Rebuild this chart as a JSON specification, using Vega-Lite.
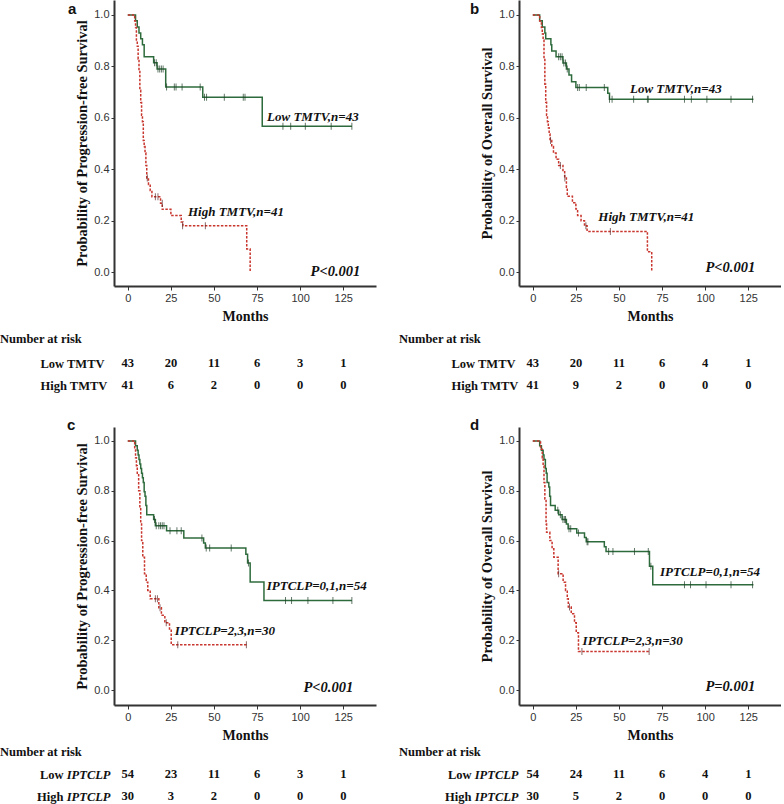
{
"$schema":"https://vega.github.io/schema/vega-lite/v6.json",
"background":"white",
"padding":{"left":0,"top":0,"right":0,"bottom":0},
"config":{"view":{"stroke":null},
"axis":{"grid":false,"domainColor":"#333","domainWidth":2,"tickColor":"#333","tickWidth":1,"labelFont":"Liberation Sans","labelFontSize":11,"labelColor":"#333","titleFont":"Liberation Serif","titleFontWeight":"bold","titleColor":"#111"},
"title":{"font":"Liberation Sans","fontWeight":"bold","fontSize":15,"color":"#111"},
"text":{"font":"Liberation Serif","fontWeight":"bold","color":"#111"}},
"datasets":{
"km":[
{"p":"a","g":"low","m":0,"s":1},{"p":"a","g":"low","m":4.5,"s":0.977},{"p":"a","g":"low","m":5.5,"s":0.953},{"p":"a","g":"low","m":6.5,"s":0.93},{"p":"a","g":"low","m":7.5,"s":0.907},{"p":"a","g":"low","m":8.5,"s":0.884},{"p":"a","g":"low","m":9.5,"s":0.837},{"p":"a","g":"low","m":15,"s":0.814},{"p":"a","g":"low","m":17,"s":0.79},{"p":"a","g":"low","m":22,"s":0.72},{"p":"a","g":"low","m":43.5,"s":0.68},{"p":"a","g":"low","m":78,"s":0.567},{"p":"a","g":"low","m":130,"s":0.567},
{"p":"a","g":"high","m":0,"s":1},{"p":"a","g":"high","m":4,"s":0.976},{"p":"a","g":"high","m":4.5,"s":0.951},{"p":"a","g":"high","m":5,"s":0.902},{"p":"a","g":"high","m":5.5,"s":0.878},{"p":"a","g":"high","m":6,"s":0.829},{"p":"a","g":"high","m":6.5,"s":0.78},{"p":"a","g":"high","m":7,"s":0.707},{"p":"a","g":"high","m":7.5,"s":0.659},{"p":"a","g":"high","m":8,"s":0.61},{"p":"a","g":"high","m":8.5,"s":0.585},{"p":"a","g":"high","m":9,"s":0.512},{"p":"a","g":"high","m":9.5,"s":0.488},{"p":"a","g":"high","m":10,"s":0.463},{"p":"a","g":"high","m":10.5,"s":0.415},{"p":"a","g":"high","m":11,"s":0.366},{"p":"a","g":"high","m":12,"s":0.341},{"p":"a","g":"high","m":13,"s":0.317},{"p":"a","g":"high","m":14,"s":0.293},{"p":"a","g":"high","m":19,"s":0.268},{"p":"a","g":"high","m":20,"s":0.244},{"p":"a","g":"high","m":25,"s":0.22},{"p":"a","g":"high","m":31,"s":0.195},{"p":"a","g":"high","m":32,"s":0.18},{"p":"a","g":"high","m":69,"s":0.09},{"p":"a","g":"high","m":71,"s":0},
{"p":"b","g":"low","m":0,"s":1},{"p":"b","g":"low","m":4,"s":0.977},{"p":"b","g":"low","m":5.5,"s":0.953},{"p":"b","g":"low","m":7,"s":0.93},{"p":"b","g":"low","m":7.5,"s":0.907},{"p":"b","g":"low","m":10.5,"s":0.884},{"p":"b","g":"low","m":11,"s":0.86},{"p":"b","g":"low","m":13.5,"s":0.837},{"p":"b","g":"low","m":17.5,"s":0.813},{"p":"b","g":"low","m":19.5,"s":0.79},{"p":"b","g":"low","m":21,"s":0.766},{"p":"b","g":"low","m":22.5,"s":0.74},{"p":"b","g":"low","m":25,"s":0.718},{"p":"b","g":"low","m":43.5,"s":0.695},{"p":"b","g":"low","m":44.5,"s":0.672},{"p":"b","g":"low","m":128,"s":0.672},
{"p":"b","g":"high","m":0,"s":1},{"p":"b","g":"high","m":4,"s":0.976},{"p":"b","g":"high","m":5,"s":0.951},{"p":"b","g":"high","m":5.5,"s":0.927},{"p":"b","g":"high","m":6,"s":0.902},{"p":"b","g":"high","m":6.5,"s":0.83},{"p":"b","g":"high","m":7,"s":0.73},{"p":"b","g":"high","m":7.5,"s":0.66},{"p":"b","g":"high","m":8,"s":0.61},{"p":"b","g":"high","m":8.5,"s":0.585},{"p":"b","g":"high","m":9,"s":0.561},{"p":"b","g":"high","m":9.5,"s":0.537},{"p":"b","g":"high","m":10,"s":0.512},{"p":"b","g":"high","m":11,"s":0.488},{"p":"b","g":"high","m":12,"s":0.463},{"p":"b","g":"high","m":13.5,"s":0.439},{"p":"b","g":"high","m":15,"s":0.415},{"p":"b","g":"high","m":17.5,"s":0.39},{"p":"b","g":"high","m":18.5,"s":0.366},{"p":"b","g":"high","m":19.5,"s":0.33},{"p":"b","g":"high","m":20,"s":0.295},{"p":"b","g":"high","m":23,"s":0.27},{"p":"b","g":"high","m":25,"s":0.245},{"p":"b","g":"high","m":26,"s":0.22},{"p":"b","g":"high","m":28,"s":0.2},{"p":"b","g":"high","m":30,"s":0.18},{"p":"b","g":"high","m":31.5,"s":0.158},{"p":"b","g":"high","m":66.5,"s":0.079},{"p":"b","g":"high","m":69,"s":0},
{"p":"c","g":"low","m":0,"s":1},{"p":"c","g":"low","m":4.5,"s":0.981},{"p":"c","g":"low","m":5.5,"s":0.963},{"p":"c","g":"low","m":6,"s":0.944},{"p":"c","g":"low","m":6.5,"s":0.926},{"p":"c","g":"low","m":7,"s":0.907},{"p":"c","g":"low","m":7.5,"s":0.889},{"p":"c","g":"low","m":8,"s":0.87},{"p":"c","g":"low","m":8.5,"s":0.852},{"p":"c","g":"low","m":9,"s":0.833},{"p":"c","g":"low","m":9.5,"s":0.796},{"p":"c","g":"low","m":10,"s":0.778},{"p":"c","g":"low","m":10.5,"s":0.741},{"p":"c","g":"low","m":11,"s":0.704},{"p":"c","g":"low","m":15,"s":0.685},{"p":"c","g":"low","m":16,"s":0.66},{"p":"c","g":"low","m":22.5,"s":0.64},{"p":"c","g":"low","m":32.5,"s":0.61},{"p":"c","g":"low","m":44,"s":0.59},{"p":"c","g":"low","m":45,"s":0.57},{"p":"c","g":"low","m":68.5,"s":0.545},{"p":"c","g":"low","m":69.5,"s":0.51},{"p":"c","g":"low","m":71,"s":0.434},{"p":"c","g":"low","m":79,"s":0.36},{"p":"c","g":"low","m":130,"s":0.36},
{"p":"c","g":"high","m":0,"s":1},{"p":"c","g":"high","m":4,"s":0.967},{"p":"c","g":"high","m":4.5,"s":0.933},{"p":"c","g":"high","m":5,"s":0.9},{"p":"c","g":"high","m":5.5,"s":0.867},{"p":"c","g":"high","m":6.3,"s":0.8},{"p":"c","g":"high","m":7,"s":0.733},{"p":"c","g":"high","m":7.5,"s":0.667},{"p":"c","g":"high","m":8,"s":0.6},{"p":"c","g":"high","m":8.7,"s":0.533},{"p":"c","g":"high","m":9.7,"s":0.467},{"p":"c","g":"high","m":10.7,"s":0.433},{"p":"c","g":"high","m":11.6,"s":0.4},{"p":"c","g":"high","m":13,"s":0.367},{"p":"c","g":"high","m":18,"s":0.33},{"p":"c","g":"high","m":19.5,"s":0.3},{"p":"c","g":"high","m":21.5,"s":0.27},{"p":"c","g":"high","m":24.2,"s":0.245},{"p":"c","g":"high","m":25.2,"s":0.182},{"p":"c","g":"high","m":69,"s":0.182},
{"p":"d","g":"low","m":0,"s":1},{"p":"d","g":"low","m":4,"s":0.981},{"p":"d","g":"low","m":5,"s":0.963},{"p":"d","g":"low","m":6,"s":0.944},{"p":"d","g":"low","m":6.5,"s":0.926},{"p":"d","g":"low","m":7.3,"s":0.889},{"p":"d","g":"low","m":7.8,"s":0.87},{"p":"d","g":"low","m":8.3,"s":0.833},{"p":"d","g":"low","m":9.3,"s":0.815},{"p":"d","g":"low","m":9.8,"s":0.778},{"p":"d","g":"low","m":10.3,"s":0.741},{"p":"d","g":"low","m":13,"s":0.722},{"p":"d","g":"low","m":15,"s":0.704},{"p":"d","g":"low","m":17,"s":0.685},{"p":"d","g":"low","m":19.5,"s":0.667},{"p":"d","g":"low","m":20.5,"s":0.648},{"p":"d","g":"low","m":25.5,"s":0.63},{"p":"d","g":"low","m":30,"s":0.612},{"p":"d","g":"low","m":31,"s":0.595},{"p":"d","g":"low","m":41.5,"s":0.575},{"p":"d","g":"low","m":42.5,"s":0.556},{"p":"d","g":"low","m":67.7,"s":0.497},{"p":"d","g":"low","m":69.6,"s":0.423},{"p":"d","g":"low","m":128,"s":0.423},
{"p":"d","g":"high","m":0,"s":1},{"p":"d","g":"high","m":4.5,"s":0.967},{"p":"d","g":"high","m":5.5,"s":0.933},{"p":"d","g":"high","m":6,"s":0.9},{"p":"d","g":"high","m":6.5,"s":0.833},{"p":"d","g":"high","m":7,"s":0.767},{"p":"d","g":"high","m":7.7,"s":0.667},{"p":"d","g":"high","m":8,"s":0.633},{"p":"d","g":"high","m":9.9,"s":0.6},{"p":"d","g":"high","m":11.2,"s":0.567},{"p":"d","g":"high","m":12.2,"s":0.533},{"p":"d","g":"high","m":14.7,"s":0.467},{"p":"d","g":"high","m":17.6,"s":0.433},{"p":"d","g":"high","m":19,"s":0.4},{"p":"d","g":"high","m":20,"s":0.367},{"p":"d","g":"high","m":20.6,"s":0.333},{"p":"d","g":"high","m":22.3,"s":0.306},{"p":"d","g":"high","m":24.2,"s":0.27},{"p":"d","g":"high","m":25.2,"s":0.23},{"p":"d","g":"high","m":26.5,"s":0.155},{"p":"d","g":"high","m":68,"s":0.155}
],
"cens":[
{"p":"a","g":"low","m":15.5,"s":0.814},{"p":"a","g":"low","m":16.5,"s":0.814},{"p":"a","g":"low","m":17.5,"s":0.79},{"p":"a","g":"low","m":18.5,"s":0.79},{"p":"a","g":"low","m":19.5,"s":0.79},{"p":"a","g":"low","m":20.5,"s":0.79},{"p":"a","g":"low","m":22.5,"s":0.72},{"p":"a","g":"low","m":27,"s":0.72},{"p":"a","g":"low","m":28,"s":0.72},{"p":"a","g":"low","m":31.5,"s":0.72},{"p":"a","g":"low","m":42,"s":0.72},{"p":"a","g":"low","m":44.5,"s":0.68},{"p":"a","g":"low","m":45.7,"s":0.68},{"p":"a","g":"low","m":56,"s":0.68},{"p":"a","g":"low","m":67,"s":0.68},{"p":"a","g":"low","m":68,"s":0.68},{"p":"a","g":"low","m":90,"s":0.567},{"p":"a","g":"low","m":94.5,"s":0.567},{"p":"a","g":"low","m":103,"s":0.567},{"p":"a","g":"low","m":118,"s":0.567},{"p":"a","g":"low","m":130,"s":0.567},
{"p":"a","g":"high","m":11.3,"s":0.366},{"p":"a","g":"high","m":16,"s":0.293},{"p":"a","g":"high","m":17.5,"s":0.293},{"p":"a","g":"high","m":20,"s":0.268},{"p":"a","g":"high","m":31.8,"s":0.18},{"p":"a","g":"high","m":45,"s":0.18},
{"p":"b","g":"low","m":15,"s":0.837},{"p":"b","g":"low","m":16,"s":0.837},{"p":"b","g":"low","m":17,"s":0.837},{"p":"b","g":"low","m":18,"s":0.813},{"p":"b","g":"low","m":19,"s":0.813},{"p":"b","g":"low","m":20,"s":0.79},{"p":"b","g":"low","m":26,"s":0.718},{"p":"b","g":"low","m":27,"s":0.718},{"p":"b","g":"low","m":31,"s":0.718},{"p":"b","g":"low","m":41.5,"s":0.718},{"p":"b","g":"low","m":44.5,"s":0.672},{"p":"b","g":"low","m":46,"s":0.672},{"p":"b","g":"low","m":58.5,"s":0.672},{"p":"b","g":"low","m":66.5,"s":0.672},{"p":"b","g":"low","m":67,"s":0.672},{"p":"b","g":"low","m":88,"s":0.672},{"p":"b","g":"low","m":92,"s":0.672},{"p":"b","g":"low","m":101,"s":0.672},{"p":"b","g":"low","m":115,"s":0.672},{"p":"b","g":"low","m":127.5,"s":0.672},
{"p":"b","g":"high","m":10.3,"s":0.512},{"p":"b","g":"high","m":16,"s":0.415},{"p":"b","g":"high","m":18.6,"s":0.366},{"p":"b","g":"high","m":30.8,"s":0.18},{"p":"b","g":"high","m":45,"s":0.158},
{"p":"c","g":"low","m":15.5,"s":0.685},{"p":"c","g":"low","m":16.5,"s":0.66},{"p":"c","g":"low","m":18,"s":0.66},{"p":"c","g":"low","m":19,"s":0.66},{"p":"c","g":"low","m":20,"s":0.66},{"p":"c","g":"low","m":21,"s":0.66},{"p":"c","g":"low","m":24.5,"s":0.64},{"p":"c","g":"low","m":28.5,"s":0.64},{"p":"c","g":"low","m":31,"s":0.64},{"p":"c","g":"low","m":43,"s":0.61},{"p":"c","g":"low","m":45.5,"s":0.57},{"p":"c","g":"low","m":47.5,"s":0.57},{"p":"c","g":"low","m":60,"s":0.57},{"p":"c","g":"low","m":70,"s":0.51},{"p":"c","g":"low","m":91.5,"s":0.36},{"p":"c","g":"low","m":95,"s":0.36},{"p":"c","g":"low","m":104.5,"s":0.36},{"p":"c","g":"low","m":119,"s":0.36},{"p":"c","g":"low","m":130,"s":0.36},
{"p":"c","g":"high","m":16,"s":0.367},{"p":"c","g":"high","m":17.2,"s":0.367},{"p":"c","g":"high","m":18.7,"s":0.33},{"p":"c","g":"high","m":22.3,"s":0.27},{"p":"c","g":"high","m":29,"s":0.182},{"p":"c","g":"high","m":68.8,"s":0.182},
{"p":"d","g":"low","m":14.5,"s":0.722},{"p":"d","g":"low","m":16,"s":0.704},{"p":"d","g":"low","m":17.5,"s":0.685},{"p":"d","g":"low","m":18.5,"s":0.685},{"p":"d","g":"low","m":19,"s":0.685},{"p":"d","g":"low","m":21,"s":0.648},{"p":"d","g":"low","m":22,"s":0.648},{"p":"d","g":"low","m":26.5,"s":0.63},{"p":"d","g":"low","m":31.5,"s":0.595},{"p":"d","g":"low","m":32,"s":0.595},{"p":"d","g":"low","m":44,"s":0.556},{"p":"d","g":"low","m":46.5,"s":0.556},{"p":"d","g":"low","m":59,"s":0.556},{"p":"d","g":"low","m":67,"s":0.556},{"p":"d","g":"low","m":68.5,"s":0.497},{"p":"d","g":"low","m":88,"s":0.423},{"p":"d","g":"low","m":91.5,"s":0.423},{"p":"d","g":"low","m":100.5,"s":0.423},{"p":"d","g":"low","m":115,"s":0.423},{"p":"d","g":"low","m":127.5,"s":0.423},
{"p":"d","g":"high","m":15,"s":0.467},{"p":"d","g":"high","m":21.3,"s":0.333},{"p":"d","g":"high","m":28.5,"s":0.155},{"p":"d","g":"high","m":67.5,"s":0.155}
],
"lab":[
{"p":"a","t":"Low TMTV,n=43","m":80.8,"s":0.603},{"p":"a","t":"High TMTV,n=41","m":34.9,"s":0.235},
{"p":"b","t":"Low TMTV,n=43","m":56.4,"s":0.711},{"p":"b","t":"High TMTV,n=41","m":38,"s":0.215},
{"p":"c","t":"IPTCLP=0,1,n=54","m":80.6,"s":0.416},{"p":"c","t":"IPTCLP=2,3,n=30","m":27.3,"s":0.236},
{"p":"d","t":"IPTCLP=0,1,n=54","m":73.8,"s":0.473},{"p":"d","t":"IPTCLP=2,3,n=30","m":28.9,"s":0.195}
],
"pv":[
{"p":"a","t":"P<0.001","m":134.9,"s":0.0},{"p":"b","t":"P<0.001","m":129,"s":0.016},{"p":"c","t":"P<0.001","m":130.8,"s":0.008},{"p":"d","t":"P=0.001","m":129,"s":0.012}
],
"risk":[
{"p":"a","g":"Low","m":0,"n":43},{"p":"a","g":"Low","m":25,"n":20},{"p":"a","g":"Low","m":50,"n":11},{"p":"a","g":"Low","m":75,"n":6},{"p":"a","g":"Low","m":100,"n":3},{"p":"a","g":"Low","m":125,"n":1},
{"p":"a","g":"High","m":0,"n":41},{"p":"a","g":"High","m":25,"n":6},{"p":"a","g":"High","m":50,"n":2},{"p":"a","g":"High","m":75,"n":0},{"p":"a","g":"High","m":100,"n":0},{"p":"a","g":"High","m":125,"n":0},
{"p":"b","g":"Low","m":0,"n":43},{"p":"b","g":"Low","m":25,"n":20},{"p":"b","g":"Low","m":50,"n":11},{"p":"b","g":"Low","m":75,"n":6},{"p":"b","g":"Low","m":100,"n":4},{"p":"b","g":"Low","m":125,"n":1},
{"p":"b","g":"High","m":0,"n":41},{"p":"b","g":"High","m":25,"n":9},{"p":"b","g":"High","m":50,"n":2},{"p":"b","g":"High","m":75,"n":0},{"p":"b","g":"High","m":100,"n":0},{"p":"b","g":"High","m":125,"n":0},
{"p":"c","g":"Low","m":0,"n":54},{"p":"c","g":"Low","m":25,"n":23},{"p":"c","g":"Low","m":50,"n":11},{"p":"c","g":"Low","m":75,"n":6},{"p":"c","g":"Low","m":100,"n":3},{"p":"c","g":"Low","m":125,"n":1},
{"p":"c","g":"High","m":0,"n":30},{"p":"c","g":"High","m":25,"n":3},{"p":"c","g":"High","m":50,"n":2},{"p":"c","g":"High","m":75,"n":0},{"p":"c","g":"High","m":100,"n":0},{"p":"c","g":"High","m":125,"n":0},
{"p":"d","g":"Low","m":0,"n":54},{"p":"d","g":"Low","m":25,"n":24},{"p":"d","g":"Low","m":50,"n":11},{"p":"d","g":"Low","m":75,"n":6},{"p":"d","g":"Low","m":100,"n":4},{"p":"d","g":"Low","m":125,"n":1},
{"p":"d","g":"High","m":0,"n":30},{"p":"d","g":"High","m":25,"n":5},{"p":"d","g":"High","m":50,"n":2},{"p":"d","g":"High","m":75,"n":0},{"p":"d","g":"High","m":100,"n":0},{"p":"d","g":"High","m":125,"n":0}
]
},
"spacing":22,
"vconcat":[
{"spacing":23,"hconcat":[
{"bounds":"flush","spacing":66,"vconcat":[
{"width":262,"height":286,
"title":{"text":"a","anchor":"start","frame":"group","dx":-46,"offset":-17},
"encoding":{
"x":{"field":"m","type":"quantitative","scale":{"domain":[-8,144],"nice":false,"zero":false},"axis":{"title":"Months","values":[0,25,50,75,100,125],"tickSize":4,"labelPadding":2,"titleFontSize":14,"titlePadding":6}},
"y":{"field":"s","type":"quantitative","scale":{"domain":[-0.054,1.058],"nice":false,"zero":false},"axis":{"title":"Probability of Progression-free Survival","values":[0,0.2,0.4,0.6,0.8,1],"format":".1f","tickSize":3,"labelPadding":2,"titleFontSize":14.5,"titlePadding":4}}},
"layer":[
{"data":{"name":"km"},"transform":[{"filter":"datum.p==='a'"}],"mark":{"type":"line","interpolate":"step-after","strokeWidth":1.5},"encoding":{"color":{"field":"g","type":"nominal","scale":{"domain":["low","high"],"range":["#2e6b3c","#c8362e"]},"legend":null},"strokeDash":{"field":"g","type":"nominal","scale":{"domain":["low","high"],"range":[[1,0],[2.5,1.5]]},"legend":null}}},
{"data":{"name":"cens"},"transform":[{"filter":"datum.p==='a'"}],"mark":{"type":"tick","orient":"vertical","size":7,"thickness":1},"encoding":{"color":{"condition":{"test":"datum.g==='low'","value":"#1e3f27"},"value":"#5b2a2a"}}},
{"data":{"name":"lab"},"transform":[{"filter":"datum.p==='a'"}],"mark":{"type":"text","align":"left","baseline":"middle","fontStyle":"italic","fontSize":13},"encoding":{"text":{"field":"t"}}},
{"data":{"name":"pv"},"transform":[{"filter":"datum.p==='a'"}],"mark":{"type":"text","align":"right","baseline":"middle","fontStyle":"italic","fontSize":14.5},"encoding":{"text":{"field":"t"}}}
]},
{"width":262,"height":44,
"title":{"text":"Number at risk","anchor":"start","frame":"group","dx":-114,"offset":7,"font":"Liberation Serif","fontSize":12.5,"fontWeight":"bold"},
"data":{"name":"risk"},"transform":[{"filter":"datum.p==='a'"}],
"mark":{"type":"text","fontSize":12.5},
"encoding":{
"x":{"field":"m","type":"quantitative","scale":{"domain":[-8,144],"nice":false,"zero":false},"axis":null},
"y":{"field":"g","type":"nominal","sort":["Low","High"],"axis":{"title":null,"domain":false,"ticks":false,"tickSize":0,"labelExpr":"datum.value + ' TMTV'","labelAlign":"left","labelPadding":74,"labelFont":"Liberation Serif","labelFontWeight":"bold","labelFontSize":12.5,"labelColor":"#111"}},
"text":{"field":"n"}}}
]},
{"bounds":"flush","spacing":66,"vconcat":[
{"width":262,"height":286,
"title":{"text":"b","anchor":"start","frame":"group","dx":-49,"offset":-17},
"encoding":{
"x":{"field":"m","type":"quantitative","scale":{"domain":[-8,144],"nice":false,"zero":false},"axis":{"title":"Months","values":[0,25,50,75,100,125],"tickSize":4,"labelPadding":2,"titleFontSize":14,"titlePadding":6}},
"y":{"field":"s","type":"quantitative","scale":{"domain":[-0.054,1.058],"nice":false,"zero":false},"axis":{"title":"Probability of Overall Survival","values":[0,0.2,0.4,0.6,0.8,1],"format":".1f","tickSize":3,"labelPadding":2,"titleFontSize":14.5,"titlePadding":4}}},
"layer":[
{"data":{"name":"km"},"transform":[{"filter":"datum.p==='b'"}],"mark":{"type":"line","interpolate":"step-after","strokeWidth":1.5},"encoding":{"color":{"field":"g","type":"nominal","scale":{"domain":["low","high"],"range":["#2e6b3c","#c8362e"]},"legend":null},"strokeDash":{"field":"g","type":"nominal","scale":{"domain":["low","high"],"range":[[1,0],[2.5,1.5]]},"legend":null}}},
{"data":{"name":"cens"},"transform":[{"filter":"datum.p==='b'"}],"mark":{"type":"tick","orient":"vertical","size":7,"thickness":1},"encoding":{"color":{"condition":{"test":"datum.g==='low'","value":"#1e3f27"},"value":"#5b2a2a"}}},
{"data":{"name":"lab"},"transform":[{"filter":"datum.p==='b'"}],"mark":{"type":"text","align":"left","baseline":"middle","fontStyle":"italic","fontSize":13},"encoding":{"text":{"field":"t"}}},
{"data":{"name":"pv"},"transform":[{"filter":"datum.p==='b'"}],"mark":{"type":"text","align":"right","baseline":"middle","fontStyle":"italic","fontSize":14.5},"encoding":{"text":{"field":"t"}}}
]},
{"width":262,"height":44,
"title":{"text":"Number at risk","anchor":"start","frame":"group","dx":-120,"offset":7,"font":"Liberation Serif","fontSize":12.5,"fontWeight":"bold"},
"data":{"name":"risk"},"transform":[{"filter":"datum.p==='b'"}],
"mark":{"type":"text","fontSize":12.5},
"encoding":{
"x":{"field":"m","type":"quantitative","scale":{"domain":[-8,144],"nice":false,"zero":false},"axis":null},
"y":{"field":"g","type":"nominal","sort":["Low","High"],"axis":{"title":null,"domain":false,"ticks":false,"tickSize":0,"labelExpr":"datum.value + ' TMTV'","labelAlign":"left","labelPadding":68,"labelFont":"Liberation Serif","labelFontWeight":"bold","labelFontSize":12.5,"labelColor":"#111"}},
"text":{"field":"n"}}}
]}
]},
{"spacing":23,"hconcat":[
{"bounds":"flush","spacing":58,"vconcat":[
{"width":262,"height":278,
"title":{"text":"c","anchor":"start","frame":"group","dx":-47,"offset":-6},
"encoding":{
"x":{"field":"m","type":"quantitative","scale":{"domain":[-8,144],"nice":false,"zero":false},"axis":{"title":"Months","values":[0,25,50,75,100,125],"tickSize":4,"labelPadding":2,"titleFontSize":14,"titlePadding":6}},
"y":{"field":"s","type":"quantitative","scale":{"domain":[-0.06,1.056],"nice":false,"zero":false},"axis":{"title":"Probability of Progression-free Survival","values":[0,0.2,0.4,0.6,0.8,1],"format":".1f","tickSize":3,"labelPadding":2,"titleFontSize":14.5,"titlePadding":4}}},
"layer":[
{"data":{"name":"km"},"transform":[{"filter":"datum.p==='c'"}],"mark":{"type":"line","interpolate":"step-after","strokeWidth":1.5},"encoding":{"color":{"field":"g","type":"nominal","scale":{"domain":["low","high"],"range":["#2e6b3c","#c8362e"]},"legend":null},"strokeDash":{"field":"g","type":"nominal","scale":{"domain":["low","high"],"range":[[1,0],[2.5,1.5]]},"legend":null}}},
{"data":{"name":"cens"},"transform":[{"filter":"datum.p==='c'"}],"mark":{"type":"tick","orient":"vertical","size":7,"thickness":1},"encoding":{"color":{"condition":{"test":"datum.g==='low'","value":"#1e3f27"},"value":"#5b2a2a"}}},
{"data":{"name":"lab"},"transform":[{"filter":"datum.p==='c'"}],"mark":{"type":"text","align":"left","baseline":"middle","fontStyle":"italic","fontSize":13},"encoding":{"text":{"field":"t"}}},
{"data":{"name":"pv"},"transform":[{"filter":"datum.p==='c'"}],"mark":{"type":"text","align":"right","baseline":"middle","fontStyle":"italic","fontSize":14.5},"encoding":{"text":{"field":"t"}}}
]},
{"width":262,"height":44,
"title":{"text":"Number at risk","anchor":"start","frame":"group","dx":-114,"offset":5,"font":"Liberation Serif","fontSize":12.5,"fontWeight":"bold"},
"data":{"name":"risk"},"transform":[{"filter":"datum.p==='c'"}],
"layer":[
{"mark":{"type":"text","fontSize":12.5},
"encoding":{
"x":{"field":"m","type":"quantitative","scale":{"domain":[-8,144],"nice":false,"zero":false},"axis":null},
"y":{"field":"g","type":"nominal","sort":["Low","High"],"axis":{"title":null,"domain":false,"ticks":false,"tickSize":0,"labelAlign":"right","labelPadding":51,"labelFont":"Liberation Serif","labelFontWeight":"bold","labelFontSize":12.5,"labelColor":"#111"}},
"text":{"field":"n"}}},
{"mark":{"type":"text","fontSize":12.5,"opacity":0},
"encoding":{
"x":{"field":"m","type":"quantitative","scale":{"domain":[-8,144],"nice":false,"zero":false},"axis":null},
"y":{"field":"g","type":"nominal","sort":["Low","High"],"axis":{"orient":"left","title":null,"domain":false,"ticks":false,"tickSize":0,"labelExpr":"'IPTCLP'","labelAlign":"right","labelPadding":4,"labelFont":"Liberation Serif","labelFontWeight":"bold","labelFontStyle":"italic","labelFontSize":12.5,"labelColor":"#111"}},
"text":{"field":"n"}}}
],
"resolve":{"scale":{"y":"independent"},"axis":{"y":"independent"}}}
]},
{"bounds":"flush","spacing":58,"vconcat":[
{"width":262,"height":278,
"title":{"text":"d","anchor":"start","frame":"group","dx":-49,"offset":-6},
"encoding":{
"x":{"field":"m","type":"quantitative","scale":{"domain":[-8,144],"nice":false,"zero":false},"axis":{"title":"Months","values":[0,25,50,75,100,125],"tickSize":4,"labelPadding":2,"titleFontSize":14,"titlePadding":6}},
"y":{"field":"s","type":"quantitative","scale":{"domain":[-0.06,1.056],"nice":false,"zero":false},"axis":{"title":"Probability of Overall Survival","values":[0,0.2,0.4,0.6,0.8,1],"format":".1f","tickSize":3,"labelPadding":2,"titleFontSize":14.5,"titlePadding":4}}},
"layer":[
{"data":{"name":"km"},"transform":[{"filter":"datum.p==='d'"}],"mark":{"type":"line","interpolate":"step-after","strokeWidth":1.5},"encoding":{"color":{"field":"g","type":"nominal","scale":{"domain":["low","high"],"range":["#2e6b3c","#c8362e"]},"legend":null},"strokeDash":{"field":"g","type":"nominal","scale":{"domain":["low","high"],"range":[[1,0],[2.5,1.5]]},"legend":null}}},
{"data":{"name":"cens"},"transform":[{"filter":"datum.p==='d'"}],"mark":{"type":"tick","orient":"vertical","size":7,"thickness":1},"encoding":{"color":{"condition":{"test":"datum.g==='low'","value":"#1e3f27"},"value":"#5b2a2a"}}},
{"data":{"name":"lab"},"transform":[{"filter":"datum.p==='d'"}],"mark":{"type":"text","align":"left","baseline":"middle","fontStyle":"italic","fontSize":13},"encoding":{"text":{"field":"t"}}},
{"data":{"name":"pv"},"transform":[{"filter":"datum.p==='d'"}],"mark":{"type":"text","align":"right","baseline":"middle","fontStyle":"italic","fontSize":14.5},"encoding":{"text":{"field":"t"}}}
]},
{"width":262,"height":44,
"title":{"text":"Number at risk","anchor":"start","frame":"group","dx":-120,"offset":5,"font":"Liberation Serif","fontSize":12.5,"fontWeight":"bold"},
"data":{"name":"risk"},"transform":[{"filter":"datum.p==='d'"}],
"layer":[
{"mark":{"type":"text","fontSize":12.5},
"encoding":{
"x":{"field":"m","type":"quantitative","scale":{"domain":[-8,144],"nice":false,"zero":false},"axis":null},
"y":{"field":"g","type":"nominal","sort":["Low","High"],"axis":{"title":null,"domain":false,"ticks":false,"tickSize":0,"labelAlign":"right","labelPadding":48,"labelFont":"Liberation Serif","labelFontWeight":"bold","labelFontSize":12.5,"labelColor":"#111"}},
"text":{"field":"n"}}},
{"mark":{"type":"text","fontSize":12.5,"opacity":0},
"encoding":{
"x":{"field":"m","type":"quantitative","scale":{"domain":[-8,144],"nice":false,"zero":false},"axis":null},
"y":{"field":"g","type":"nominal","sort":["Low","High"],"axis":{"orient":"left","title":null,"domain":false,"ticks":false,"tickSize":0,"labelExpr":"'IPTCLP'","labelAlign":"right","labelPadding":1,"labelFont":"Liberation Serif","labelFontWeight":"bold","labelFontStyle":"italic","labelFontSize":12.5,"labelColor":"#111"}},
"text":{"field":"n"}}}
],
"resolve":{"scale":{"y":"independent"},"axis":{"y":"independent"}}}
]}
]}
]
}
